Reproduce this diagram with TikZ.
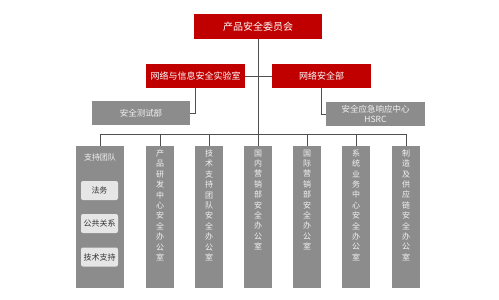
\documentclass[tikz,border=0pt]{standalone}
\usepackage{fontspec}
\setmainfont{Noto Sans CJK SC}
\definecolor{myred}{HTML}{C00000}
\definecolor{mygray}{HTML}{8C8C8C}
\definecolor{mylight}{HTML}{E6E6E6}
\definecolor{myline}{HTML}{505050}
\definecolor{mytext}{HTML}{F2F2F2}
\newcommand{\fsz}[2]{\fontsize{#1}{#2}\selectfont}
\begin{document}
\begin{tikzpicture}[x=1pt,y=-1pt,
  redbox/.style={fill=myred, text=white, minimum height=24pt, inner sep=0pt, font=\fsz{9}{11}},
  graybox/.style={fill=mygray, text=mytext, minimum height=24pt, inner sep=0pt, font=\fsz{8.5}{10.5}, align=center},
  colbox/.style={fill=mygray, minimum width=28pt, minimum height=142pt, inner sep=0pt},
  vtext/.style={text=mytext, font=\fsz{8}{10.4}, align=center, inner sep=0pt, anchor=north},
  innerbox/.style={fill=mylight, rounded corners=2pt, minimum width=37pt, minimum height=19pt, inner sep=0pt, font=\fsz{8}{10}, text=black!80},
  conn/.style={draw=myline, line width=0.9pt}]
\useasboundingbox (0,0) rectangle (499,300);
% top levels
\node[redbox, minimum width=128pt, minimum height=25pt, font=\fsz{10}{12}] (top) at (258,26.5) {产品安全委员会};
\node[redbox, minimum width=99pt] (lab) at (195.5,76) {网络与信息安全实验室};
\node[redbox, minimum width=99pt] (net) at (321.5,76) {网络安全部};
\node[graybox, minimum width=98pt] (test) at (141,113) {安全测试部};
\node[graybox, minimum width=99pt] (hsrc) at (375.5,114) {安全应急响应中心\\HSRC};
% bottom columns
\node[colbox, minimum width=48pt] (b1) at (100,217) {};
\node[colbox] (b2) at (160,217) {};
\node[colbox] (b3) at (209,217) {};
\node[colbox] (b4) at (258,217) {};
\node[colbox] (b5) at (307,217) {};
\node[colbox] (b6) at (356,217) {};
\node[colbox] (b7) at (406,217) {};
% column texts
\node[text=mytext, font=\fsz{8}{10}, inner sep=0pt] (t1) at (100,157) {支持团队};
\node[innerbox] (i1) at (99.5,190.5) {法务};
\node[innerbox] (i2) at (99.5,223.5) {公共关系};
\node[innerbox] (i3) at (99.5,257) {技术支持};
\node[vtext] (t2) at (160,149.5) {产\\品\\研\\发\\中\\心\\安\\全\\办\\公\\室};
\node[vtext] (t3) at (209,149.5) {技\\术\\支\\持\\团\\队\\安\\全\\办\\公\\室};
\node[vtext] (t4) at (258,149.5) {国\\内\\营\\销\\部\\安\\全\\办\\公\\室};
\node[vtext] (t5) at (307,149.5) {国\\际\\营\\销\\部\\安\\全\\办\\公\\室};
\node[vtext] (t6) at (356,149.5) {系\\统\\业\\务\\中\\心\\安\\全\\办\\公\\室};
\node[vtext] (t7) at (406,149.5) {制\\造\\及\\供\\应\\链\\安\\全\\办\\公\\室};
% connectors
\coordinate (busL) at (100,134);
\coordinate (busR) at (406,134);
\draw[conn] (top.south) -- (top.south |- busL);
\draw[conn] (lab.east) -- (net.west);
\draw[conn] (lab.south) |- (test.east);
\draw[conn] (net.south) |- (hsrc.west);
\draw[conn] (busL) -- (busR);
\foreach \b in {b1,b2,b3,b4,b5,b6,b7} {
  \draw[conn] (\b.north) -- (\b.north |- busL);
}
\end{tikzpicture}
\end{document}
